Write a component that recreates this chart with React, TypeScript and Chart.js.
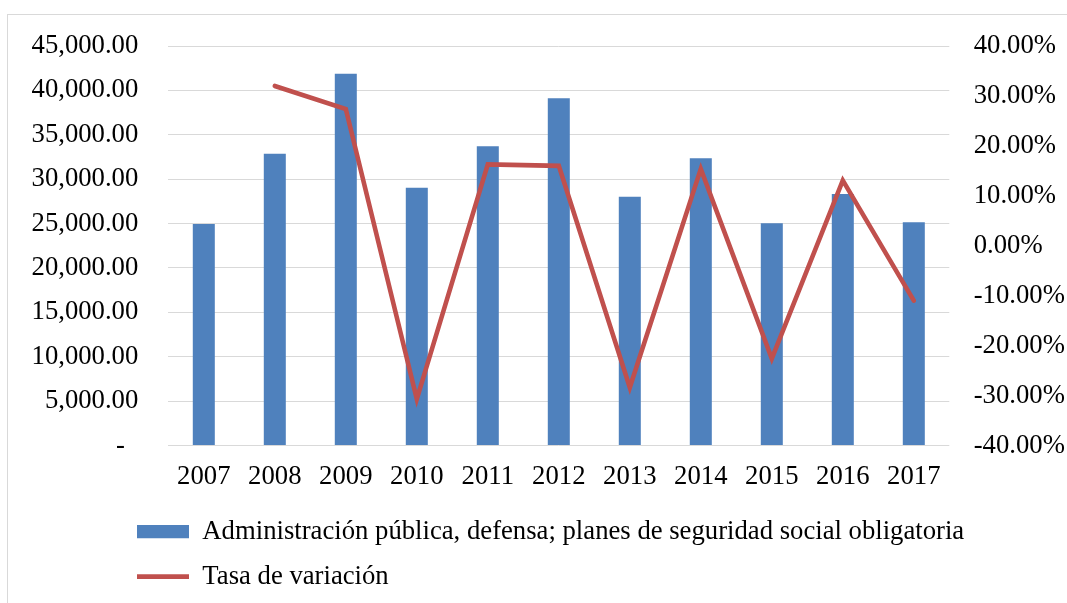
import React, { useEffect, useRef } from "react";
import { Chart, registerables } from "chart.js";

Chart.register(...registerables);

const years = ["2007", "2008", "2009", "2010", "2011", "2012", "2013", "2014", "2015", "2016", "2017"];
const gastoValues = [24950, 32870, 41890, 29030, 33720, 39130, 28020, 32350, 25030, 28320, 25150];
const tasaValues = [null, 32.0, 27.4, -30.7, 16.3, 16.0, -28.4, 15.4, -22.6, 13.1, -11.0];
const barLabel = "Administración pública, defensa; planes de seguridad social obligatoria";
const lineLabel = "Tasa de variación";

const FONT = "'Liberation Serif', 'Times New Roman', serif";
const FS = 26.7;
const LEG_PAD = 18.3;

const legendShift = {
  id: "legendShift",
  afterLayout(chart: any) {
    const lg = chart.legend;
    if (lg) {
      lg.left = 137 - LEG_PAD;
    }
  },
};

export default function App() {
  const ref = useRef<HTMLCanvasElement | null>(null);

  useEffect(() => {
    if (!ref.current) return;
    const chart = new Chart(ref.current, {
      type: "bar",
      data: {
        labels: years,
        datasets: [
          {
            type: "bar",
            label: barLabel,
            data: gastoValues,
            backgroundColor: "#4F81BD",
            borderWidth: 0,
            barPercentage: 0.31,
            categoryPercentage: 1,
            yAxisID: "y",
            order: 1,
            pointStyle: "rect",
          } as any,
          {
            type: "line",
            label: lineLabel,
            data: tasaValues,
            borderColor: "#C0504D",
            backgroundColor: "#C0504D",
            borderWidth: 4.6,
            borderCapStyle: "round",
            borderJoinStyle: "miter",
            pointRadius: 0,
            pointHoverRadius: 0,
            tension: 0,
            yAxisID: "y1",
            order: 0,
            pointStyle: "line",
          } as any,
        ],
      },
      options: {
        animation: false,
        responsive: true,
        maintainAspectRatio: false,
        layout: { padding: { top: 43, left: 0, right: 0, bottom: 3 } },
        plugins: {
          tooltip: { enabled: false },
          legend: {
            position: "bottom",
            align: "start",
            labels: {
              usePointStyle: true,
              pointStyleWidth: 52,
              boxHeight: 13.3,
              padding: LEG_PAD,
              color: "#000",
              font: { family: FONT, size: FS },
              sort: (a: any, b: any) => a.datasetIndex - b.datasetIndex,
            },
          },
        },
        scales: {
          x: {
            grid: { display: false, drawTicks: false },
            border: { display: false },
            ticks: {
              color: "#000",
              font: { family: FONT, size: FS },
              padding: 15,
              maxRotation: 0,
              autoSkip: false,
            },
            afterFit: (s: any) => {
              s.height = 54.5;
            },
          },
          y: {
            position: "left",
            min: 0,
            max: 45000,
            grid: { color: "#D9D9D9", lineWidth: 1, drawTicks: false },
            border: { display: false },
            ticks: {
              stepSize: 5000,
              color: "#000",
              padding: 30,
              font: { family: FONT, size: FS },
              callback: (v: any) =>
                Number(v) === 0
                  ? "-  "
                  : Number(v).toLocaleString("en-US", { minimumFractionDigits: 2, maximumFractionDigits: 2 }),
            },
            afterFit: (s: any) => {
              s.width = 168.3;
            },
          },
          y1: {
            position: "right",
            min: -40,
            max: 40,
            grid: { drawOnChartArea: false, drawTicks: false },
            border: { display: false },
            ticks: {
              stepSize: 10,
              color: "#000",
              padding: 24.4,
              font: { family: FONT, size: FS },
              callback: (v: any) => Number(v).toFixed(2) + "%",
            },
            afterFit: (s: any) => {
              s.width = 117.7;
            },
          },
        },
      },
      plugins: [legendShift],
    });
    return () => chart.destroy();
  }, []);

  return (
    <div style={{ position: "absolute", left: 0, top: 0, width: 1067, height: 603, overflow: "hidden", background: "#fff" }}>
      <div
        style={{
          position: "absolute",
          left: 7,
          top: 14,
          width: 1100,
          height: 700,
          borderTop: "1px solid #D9D9D9",
          borderLeft: "1px solid #D9D9D9",
        }}
      />
      <div style={{ position: "absolute", left: 0, top: 0, width: 1067, height: 603 }}>
        <canvas ref={ref} />
      </div>
    </div>
  );
}
